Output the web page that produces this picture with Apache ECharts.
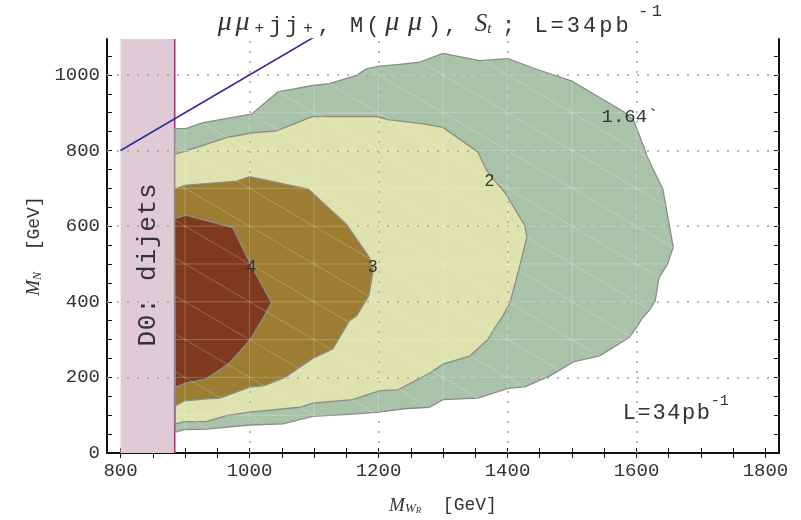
<!DOCTYPE html>
<html>
<head>
<meta charset="utf-8">
<script src="https://cdn.jsdelivr.net/npm/echarts@6/dist/echarts.min.js"></script>
<style>
  html, body { margin: 0; padding: 0; background: #fff; }
  #chart { width: 801px; height: 520px; }
</style>
</head>
<body>
<div id="chart"></div>
<script>
// axis ranges and ticks
var xRange = [779, 1821];
var yRange = [0, 1095];
var xLabels = [800, 1000, 1200, 1400, 1600, 1800];
var yLabels = [0, 200, 400, 600, 800, 1000];
var xTicks = [];
for (var v = 800; v <= 1800; v += 50) xTicks.push(v);
var yTicks = [];
for (var w = 0; w <= 1050; w += 50) yTicks.push(w);
var xGrid = [1000, 1200, 1400, 1600];
var yGrid = [200, 400, 600, 800, 1000];

// D0 dijet exclusion band (M_WR)
var bandRange = [800, 884];
// M_N = M_WR line
var diagLine = [[800, 800], [1100, 1100]];

// contour regions (M_WR, M_N)
var level164 = [[884,858],[901,858],[928,874],[1003,896],[1044,955],[1098,972],[1124,977],[1166,999],[1181,1016],
  [1202,1023],[1233,1028],[1264,1034],[1300,1057],[1357,1038],[1401,1043],[1445,1015],[1499,984],[1579,904],
  [1595,882],[1613,803],[1616,786],[1626,750],[1641,698],[1657,544],[1648,499],[1635,464],[1629,402],[1621,380],
  [1608,354],[1600,332],[1589,306],[1543,257],[1502,241],[1466,204],[1427,175],[1401,171],[1354,145],[1300,141],
  [1279,121],[1240,117],[1200,108],[1160,103],[1098,97],[1052,77],[1000,74],[933,63],[899,62],[885,55]];
var level2 = [[884,790],[902,799],[964,834],[1005,847],[1042,852],[1098,890],[1197,890],[1217,881],[1264,872],
  [1300,861],[1354,796],[1367,750],[1378,724],[1396,689],[1427,601],[1430,570],[1419,495],[1404,398],[1392,360],
  [1380,330],[1370,301],[1342,257],[1300,235],[1279,211],[1230,167],[1202,165],[1160,141],[1098,132],[1078,121],
  [1000,108],[964,99],[933,83],[899,83],[885,77]];
var level3 = [[884,698],[899,708],[980,719],[1000,731],[1091,698],[1150,605],[1186,517],[1192,486],[1185,416],
  [1166,363],[1155,350],[1129,275],[1098,250],[1055,200],[1023,178],[1000,174],[954,145],[933,143],[899,138],[885,125]];
var level4 = [[884,620],[901,629],[974,596],[1003,495],[1034,398],[1023,363],[1000,297],[967,235],[933,196],
  [901,185],[885,174]];

var contourNames = ['1.64`', '2', '3', '4'];
var contourLabelPos = [[1590, 890], [1372, 718], [1191, 491], [1003, 491]];

var MONO = 'Liberation Mono';
var SERIF = 'Liberation Serif';
var INK = '#333';

// wrap every char in its own rich token so it gets courier-like letter spacing
function spaced(str, key) {
  return str.split('').map(function (c) { return '{' + key + '|' + c + '}'; }).join('');
}

// clip a straight segment against the outer contour, returns inside pieces
function clipSegment(a, b, poly) {
  var ts = [];
  var dx = b[0] - a[0], dy = b[1] - a[1];
  for (var i = 0; i < poly.length; i++) {
    var p = poly[i], q = poly[(i + 1) % poly.length];
    var ex = q[0] - p[0], ey = q[1] - p[1];
    var den = dx * ey - dy * ex;
    if (Math.abs(den) < 1e-9) continue;
    var t = ((p[0] - a[0]) * ey - (p[1] - a[1]) * ex) / den;
    var s = ((p[0] - a[0]) * dy - (p[1] - a[1]) * dx) / den;
    if (s >= 0 && s < 1 && t >= 0 && t <= 1) ts.push(t);
  }
  ts.sort(function (m, n) { return m - n; });
  var out = [];
  for (var k = 0; k + 1 < ts.length; k += 2) {
    out.push([[a[0] + dx * ts[k], a[1] + dy * ts[k]], [a[0] + dx * ts[k + 1], a[1] + dy * ts[k + 1]]]);
  }
  return out;
}

// faint triangulation mesh seen inside the filled contours
var meshSegs = [];
(function () {
  var i;
  for (i = 900; i <= 1700; i += 100) meshSegs = meshSegs.concat(clipSegment([i, -10], [i, 1200], level164));
  for (i = 100; i <= 1100; i += 100) meshSegs = meshSegs.concat(clipSegment([700, i], [1900, i], level164));
  for (i = 1000; i <= 2800; i += 100) meshSegs = meshSegs.concat(clipSegment([i - 1300, 1300], [i + 100, -100], level164));
})();

function polySeries(pts, color, z) {
  return {
    type: 'custom', z: z, silent: true,
    data: pts,
    renderItem: function (params, api) {
      if (params.dataIndex !== 0) return null;
      var coords = pts.map(function (p) { return api.coord(p); });
      return {
        type: 'polygon',
        shape: { points: coords },
        style: { fill: color, stroke: '#8c8c8c', lineWidth: 1.3 }
      };
    }
  };
}

var titleText = spaced('μμ', 'mu') + spaced('+', 'pl') + spaced('jj', 'm') + spaced('+', 'pl') + spaced(', M(', 'm') +
  spaced('μμ', 'mu2') + spaced('), ', 'm') + '{mi|S}{sub|t}' + spaced('; L=34pb', 'm') + '{gap| }' + spaced('-1', 'sup');

var chart = echarts.init(document.getElementById('chart'));

var axisLineStyle = { show: true, lineStyle: { color: '#111', width: 2 } };
var tickStyle = { show: true, inside: true, length: 5, lineStyle: { color: '#111', width: 1 } };
var plainNum = function (val) { return String(val); };

var option = {
  backgroundColor: '#fff',
  animation: false,
  grid: { left: 107, right: 22, top: 39, bottom: 66 },
  xAxis: [{
    type: 'value', min: xRange[0], max: xRange[1], position: 'bottom',
    name: '{mi|M}{sub|W}{ss|R}{m|  [GeV]}', nameLocation: 'middle', nameGap: 43,
    nameTextStyle: {
      rich: {
        m: { fontFamily: MONO, fontSize: 18, color: INK },
        mi: { fontFamily: SERIF, fontStyle: 'italic', fontSize: 19, color: INK },
        sub: { fontFamily: SERIF, fontStyle: 'italic', fontSize: 13, color: INK, verticalAlign: 'bottom', lineHeight: 17 },
        ss: { fontFamily: SERIF, fontStyle: 'italic', fontSize: 9, color: INK, verticalAlign: 'bottom', lineHeight: 10 }
      }
    },
    axisLine: axisLineStyle, axisTick: Object.assign({ customValues: xTicks }, tickStyle),
    axisLabel: { customValues: xLabels, formatter: plainNum, fontFamily: MONO, fontSize: 19, color: INK, margin: 8 },
    splitLine: { show: false }
  }, {
    type: 'value', min: xRange[0], max: xRange[1], position: 'top',
    axisLine: axisLineStyle, axisTick: Object.assign({ customValues: xTicks }, tickStyle),
    axisLabel: { show: false }, splitLine: { show: false }
  }],
  yAxis: [{
    type: 'value', min: yRange[0], max: yRange[1], position: 'left',
    name: '{mi|M}{sub|N}{m|  [GeV]}', nameLocation: 'middle', nameGap: 52,
    nameTextStyle: {
      rich: {
        m: { fontFamily: MONO, fontSize: 18, color: INK },
        mi: { fontFamily: SERIF, fontStyle: 'italic', fontSize: 19, color: INK },
        sub: { fontFamily: SERIF, fontStyle: 'italic', fontSize: 12, color: INK, verticalAlign: 'bottom', lineHeight: 17 }
      }
    },
    axisLine: axisLineStyle, axisTick: Object.assign({ customValues: yTicks }, tickStyle),
    axisLabel: { customValues: yLabels, formatter: plainNum, fontFamily: MONO, fontSize: 19, color: INK, margin: 7 },
    splitLine: { show: false }
  }, {
    type: 'value', min: yRange[0], max: yRange[1], position: 'right',
    axisLine: axisLineStyle, axisTick: Object.assign({ customValues: yTicks }, tickStyle),
    axisLabel: { show: false }, splitLine: { show: false }
  }],
  graphic: [{
    // title
    type: 'text', z: 100, silent: true,
    style: {
      x: 216, y: 3, align: 'left', verticalAlign: 'top',
      text: titleText,
      rich: {
        m: { fontFamily: MONO, fontSize: 22, fill: INK, lineHeight: 34, verticalAlign: 'bottom', padding: [0, 1.5, 0, 1.5] },
        pl: { fontFamily: MONO, fontSize: 16, fill: INK, lineHeight: 34, verticalAlign: 'bottom', padding: [0, 3.3, 0, 3.3] },
        mu: { fontFamily: SERIF, fontStyle: 'italic', fontSize: 28, fill: INK, lineHeight: 34, verticalAlign: 'bottom', padding: [0, 1.8, 0, 1.8] },
        mu2: { fontFamily: SERIF, fontStyle: 'italic', fontSize: 28, fill: INK, lineHeight: 34, verticalAlign: 'bottom', padding: [0, 4.3, 0, 4.3] },
        mi: { fontFamily: SERIF, fontStyle: 'italic', fontSize: 25, fill: INK, lineHeight: 34, verticalAlign: 'bottom' },
        sub: { fontFamily: SERIF, fontStyle: 'italic', fontSize: 15, fill: INK, lineHeight: 24, verticalAlign: 'bottom', padding: [0, 9, 0, 0] },
        gap: { fontFamily: MONO, fontSize: 10, fill: INK, lineHeight: 34, verticalAlign: 'bottom' },
        sup: { fontFamily: MONO, fontSize: 17, fill: INK, lineHeight: 30, verticalAlign: 'top', padding: [0, 1.8, 0, 1.8] }
      }
    }
  }, {
    type: 'text', z: 100, silent: true,
    style: {
      x: 622, y: 394, align: 'left', verticalAlign: 'top',
      text: spaced('L=34pb', 'm') + '{sup|-1}',
      rich: {
        m: { fontFamily: MONO, fontSize: 22, fill: INK, lineHeight: 30, verticalAlign: 'bottom', padding: [0, 0.8, 0, 0.8] },
        sup: { fontFamily: MONO, fontSize: 15, fill: INK, lineHeight: 22, verticalAlign: 'top' }
      }
    }
  }],
  series: [
    // pink dijet band with its edge line and text
    {
      type: 'custom', z: 1, silent: true,
      data: [[bandRange[0], yRange[0]], [bandRange[1], yRange[1]]],
      renderItem: function (params, api) {
        if (params.dataIndex !== 0) return null;
        var p0 = api.coord([bandRange[0], yRange[0]]);
        var p1 = api.coord([bandRange[1], yRange[1]]);
        return {
          type: 'group',
          children: [{
            type: 'rect',
            shape: { x: p0[0], y: p1[1], width: p1[0] - p0[0], height: p0[1] - p1[1] },
            style: { fill: '#dfcad5' }
          }, {
            type: 'line',
            shape: { x1: p1[0], y1: p0[1], x2: p1[0], y2: p1[1] },
            style: { stroke: '#b0307e', lineWidth: 1.6 }
          }, {
            type: 'text',
            x: (p0[0] + p1[0]) / 2, y: 265, rotation: Math.PI / 2,
            style: {
              text: spaced('D0: dijets', 'm'), align: 'center', verticalAlign: 'middle',
              rich: { m: { fontFamily: MONO, fontSize: 26, fill: INK, padding: [0, 0.4, 0, 0.4] } }
            }
          }]
        };
      }
    },
    // dotted grid
    {
      type: 'line', z: 2, data: [], silent: true,
      markLine: {
        silent: true, symbol: 'none', label: { show: false },
        lineStyle: { color: '#a0a0a0', type: [2, 8], width: 1.5 },
        data: xGrid.map(function (g) { return { xAxis: g }; }).concat(yGrid.map(function (g) { return { yAxis: g }; }))
      }
    },
    polySeries(level164, '#a9c3a9', 3),
    polySeries(level2, '#dee2ac', 4),
    polySeries(level3, '#9c7d31', 5),
    polySeries(level4, '#7f3a1d', 6),
    // mesh
    {
      type: 'custom', z: 7, silent: true,
      data: meshSegs.map(function (s) { return s[0]; }),
      renderItem: function (params, api) {
        var s = meshSegs[params.dataIndex];
        var a = api.coord(s[0]), b = api.coord(s[1]);
        return { type: 'line', shape: { x1: a[0], y1: a[1], x2: b[0], y2: b[1] },
          style: { stroke: 'rgba(255,255,255,0.28)', lineWidth: 0.8 } };
      }
    },
    // M_N = M_WR
    {
      type: 'line', z: 8, data: diagLine, symbol: 'none', silent: true,
      lineStyle: { color: '#2b2b9a', width: 1.6 }, clip: true
    },
    // contour labels
    {
      type: 'custom', z: 9, silent: true,
      data: contourLabelPos,
      renderItem: function (params, api) {
        var i = params.dataIndex;
        var p = api.coord(contourLabelPos[i]);
        var first = i === 0;
        return {
          type: 'text', x: p[0], y: p[1],
          style: { text: contourNames[i], fontFamily: first ? MONO : 'Liberation Sans', fontSize: first ? 19 : 17,
            fill: INK, align: 'center', verticalAlign: 'middle' }
        };
      }
    }
  ]
};

chart.setOption(option);
</script>
</body>
</html>
